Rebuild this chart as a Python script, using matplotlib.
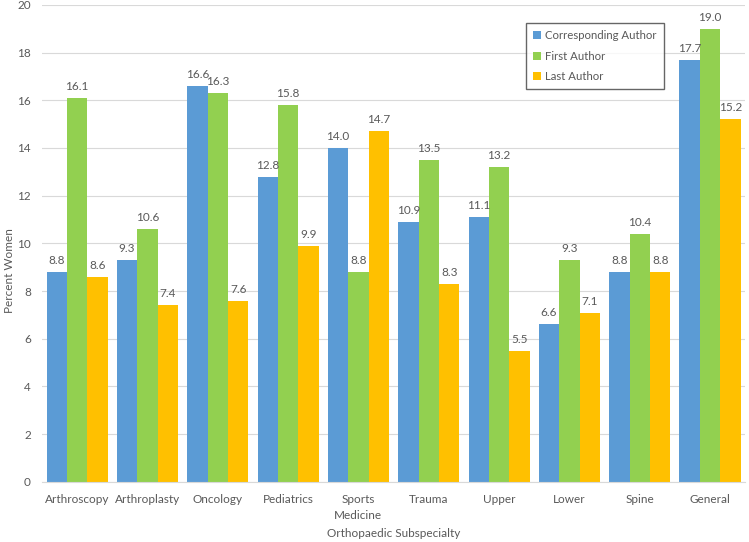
import numpy as np
import matplotlib.pyplot as plt

# Data.
categories = ["Arthroscopy", "Arthroplasty", "Oncology", "Pediatrics", "Sports\nMedicine",
              "Trauma", "Upper", "Lower", "Spine", "General"]
corresponding = [8.8, 9.3, 16.6, 12.8, 14.0, 10.9, 11.1, 6.6, 8.8, 17.7]
first = [16.1, 10.6, 16.3, 15.8, 8.8, 13.5, 13.2, 9.3, 10.4, 19.0]
last = [8.6, 7.4, 7.6, 9.9, 14.7, 8.3, 5.5, 7.1, 8.8, 15.2]

series = [("Corresponding Author", corresponding, "#5B9BD5"),
          ("First Author", first, "#92D050"),
          ("Last Author", last, "#FFC000")]

plt.rcParams["font.family"] = ["Lato", "DejaVu Sans"]
textColor = "#595959"

fig = plt.figure(figsize=(7.49, 5.42), dpi=100)
ax = fig.add_axes([0.056, 0.111, 0.939, 0.88])

x = np.arange(len(categories))
width = 0.29
for i, (name, vals, color) in enumerate(series):
  pos = x + (i - 1) * width
  ax.bar(pos, vals, width, color=color, label=name, zorder=2)
  for px, v in zip(pos, vals):
    ax.text(px, v + 0.25, f"{v:.1f}", ha="center", va="bottom", fontsize=8.5, color=textColor)

ax.set_xlim(-0.5, len(categories) - 0.5)
ax.set_ylim(0, 20)
ax.set_yticks(np.arange(0, 21, 2))
ax.set_xticks(x)
ax.set_xticklabels(categories, fontsize=8.5, color=textColor, linespacing=1.5)
ax.tick_params(axis="y", labelsize=8.5, labelcolor=textColor, length=0, pad=8)
ax.tick_params(axis="x", length=0, pad=9)
ax.grid(axis="y", color="#D9D9D9", linewidth=0.8, zorder=0)
for side in ["top", "right", "left"]:
  ax.spines[side].set_visible(False)
ax.spines["bottom"].set_color("#D9D9D9")

# Axis titles placed in figure pixels to match the reference.
ax.set_ylabel("Percent Women", fontsize=8.5, color=textColor)
ax.yaxis.set_label_coords(15 / 749, 0.5, transform=fig.transFigure)
ax.set_xlabel("Orthopaedic Subspecialty", fontsize=8.5, color=textColor)
ax.xaxis.set_label_coords(394 / 749, 14 / 542, transform=fig.transFigure)

leg = ax.legend(loc="upper left", bbox_to_anchor=(526 / 749, 1 - 23 / 542),
                bbox_transform=fig.transFigure, borderaxespad=0, fontsize=8.2,
                frameon=True, fancybox=False, handlelength=0.7, handleheight=0.7,
                handletextpad=0.4, labelspacing=0.85, borderpad=0.6, labelcolor=textColor)
leg.get_frame().set_edgecolor("#404040")
leg.get_frame().set_linewidth(1.0)

fig.savefig("out.png", dpi=100)
